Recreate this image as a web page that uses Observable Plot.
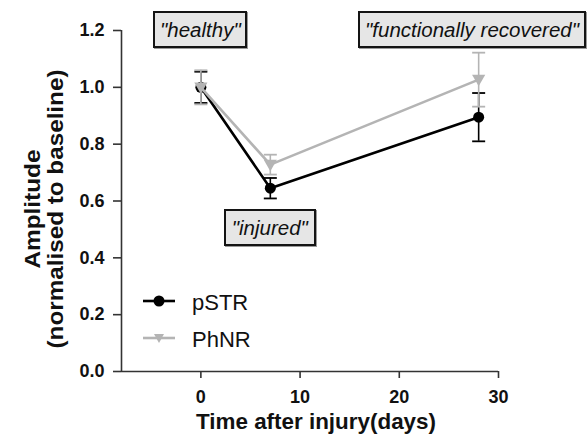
<!DOCTYPE html>
<html>
<head>
<meta charset="utf-8">
<script src="https://cdn.jsdelivr.net/npm/d3@7"></script>
<script src="https://cdn.jsdelivr.net/npm/@observablehq/plot@0.6"></script>
<style>
  html, body { margin: 0; padding: 0; background: #fff; }
  #wrap { position: relative; width: 587px; height: 440px; font-family: "Liberation Sans", Arial, sans-serif; }
  .box { position: absolute; box-sizing: border-box; background: #e6e6e6; border: 2px solid #141414;
         box-shadow: 1px 1px 0 #9a9a9a; display: flex; align-items: center; justify-content: center;
         font-style: italic; font-size: 20.5px; color: #111; white-space: nowrap; }
</style>
</head>
<body>
<div id="wrap"></div>
<script>
// ---- data ----
const days = [0, 7, 28];
const pSTR = [1.0, 0.645, 0.895];
const pSTRerr = [0.055, 0.036, 0.085];
const PhNR = [1.0, 0.728, 1.027];
const PhNRerr = [0.06, 0.035, 0.095];
const xTicks = [0, 10, 20, 30];
const yTicks = [0, 0.2, 0.4, 0.6, 0.8, 1.0, 1.2];
const annotations = [
  {day: 0, text: "\"healthy\""},
  {day: 7, text: "\"injured\""},
  {day: 28, text: "\"functionally recovered\""}
];
const seriesNames = ["pSTR", "PhNR"];
const colors = {pSTR: "#000000", PhNR: "#b4b4b4"};
const yLabel1 = "Amplitude";
const yLabel2 = "(normalised to baseline)";
const xLabel = "Time after injury(days)";

const rows = [];
days.forEach((d, i) => {
  rows.push({series: "pSTR", day: d, v: pSTR[i], lo: pSTR[i] - pSTRerr[i], hi: pSTR[i] + pSTRerr[i]});
});
days.forEach((d, i) => {
  rows.push({series: "PhNR", day: d, v: PhNR[i], lo: PhNR[i] - PhNRerr[i], hi: PhNR[i] + PhNRerr[i]});
});

const cap = { draw(ctx, size) { const w = 6.5; ctx.moveTo(-w, 0); ctx.lineTo(w, 0); } };
const triDown = { draw(ctx, size) { const r = Math.sqrt(size) * 0.62;
  ctx.moveTo(-r, -r * 0.75); ctx.lineTo(r, -r * 0.75); ctx.lineTo(0, r * 1.0); ctx.closePath(); } };

function seriesMarks(name, sym) {
  const data = rows.filter(r => r.series === name);
  const c = colors[name];
  return [
    Plot.ruleX(data, {x: "day", y1: "lo", y2: "hi", stroke: c, strokeWidth: 1.6}),
    Plot.dot(data, {x: "day", y: "lo", symbol: cap, stroke: c, strokeWidth: 1.8, r: 5}),
    Plot.dot(data, {x: "day", y: "hi", symbol: cap, stroke: c, strokeWidth: 1.8, r: 5}),
    Plot.line(data, {x: "day", y: "v", stroke: c, strokeWidth: 2.6}),
    sym === "circle"
      ? Plot.dot(data, {x: "day", y: "v", fill: c, r: 5.5, symbol: "circle"})
      : Plot.dot(data, {x: "day", y: "v", fill: c, r: 6, symbol: triDown})
  ];
}

const chart = Plot.plot({
  width: 587,
  height: 440,
  marginLeft: 121,
  marginRight: 89,
  marginTop: 30,
  marginBottom: 69,
  style: {fontFamily: "'Liberation Sans', Arial, sans-serif", background: "#fff", fontSize: "18px", fontWeight: "bold"},
  x: {domain: [-8, 30]},
  y: {domain: [0, 1.2]},
  marks: [
    Plot.ruleY([0], {stroke: "#333", strokeWidth: 1.6}),
    Plot.ruleX([-8], {stroke: "#333", strokeWidth: 1.6}),
    Plot.axisX({ticks: xTicks, tickSize: 7, tickPadding: 12, fontSize: 18, fontWeight: "bold",
      stroke: "#333", strokeWidth: 1.6, label: null, fill: "#111"}),
    Plot.axisY({ticks: yTicks, tickSize: 8, tickPadding: 9, fontSize: 18, fontWeight: "bold",
      stroke: "#333", strokeWidth: 1.6, label: null, tickFormat: d3.format(".1f"), fill: "#111"}),
    ...seriesMarks("pSTR", "circle"),
    ...seriesMarks("PhNR", "tri"),
    Plot.text([yLabel1], {frameAnchor: "left", dx: -89, dy: 8, rotate: -90, textAnchor: "middle",
      fontSize: 22, fontWeight: "bold", fill: "#111", lineAnchor: "middle"}),
    Plot.text([yLabel2], {frameAnchor: "left", dx: -66, dy: 8, rotate: -90, textAnchor: "middle",
      fontSize: 22, fontWeight: "bold", fill: "#111", lineAnchor: "middle"}),
    Plot.text([xLabel], {frameAnchor: "bottom", dx: 6, dy: 50, fontSize: 22,
      fontWeight: "bold", fill: "#111", lineAnchor: "middle"})
  ]
});

const wrap = document.getElementById("wrap");
wrap.appendChild(chart);
const xs = chart.scale("x");

// tick labels: force size/weight
const tickTexts = new Set([...xTicks.map(String), ...yTicks.map(d3.format(".1f"))]);
d3.select(chart).selectAll("text").each(function() {
  if (tickTexts.has(this.textContent)) {
    this.style.fontSize = "18px";
    this.style.fontWeight = "bold";
  }
});

// stretch labels to the reference's length
d3.select(chart).selectAll("text").each(function() {
  const t = this.textContent;
  if (t === yLabel1) { this.setAttribute("textLength", 119); this.setAttribute("lengthAdjust", "spacingAndGlyphs"); }
  if (t === yLabel2) { this.setAttribute("textLength", 279); this.setAttribute("lengthAdjust", "spacingAndGlyphs"); }
  if (t === xLabel) { this.setAttribute("textLength", 240); this.setAttribute("lengthAdjust", "spacingAndGlyphs"); }
});

// annotation boxes
const boxSpec = [
  {w: 94, h: 37, top: 11},
  {w: 92, h: 37, top: 209},
  {w: 228, h: 37, top: 11}
];
annotations.forEach((a, i) => {
  const b = boxSpec[i];
  const div = document.createElement("div");
  div.className = "box";
  div.textContent = a.text;
  let left = xs.apply(a.day) - b.w / 2;
  left = Math.min(left, 587 - b.w - 1);
  div.style.left = left + "px";
  div.style.top = b.top + "px";
  div.style.width = b.w + "px";
  div.style.height = b.h + "px";
  wrap.appendChild(div);
});

// legend
const ns = "http://www.w3.org/2000/svg";
const leg = document.createElementNS(ns, "svg");
leg.setAttribute("width", 587);
leg.setAttribute("height", 440);
leg.style.position = "absolute";
leg.style.left = "0px";
leg.style.top = "0px";
leg.style.pointerEvents = "none";
seriesNames.forEach((name, i) => {
  const cy = 301 + i * 37;
  const c = colors[name];
  const ln = document.createElementNS(ns, "line");
  ln.setAttribute("x1", 143); ln.setAttribute("x2", 175);
  ln.setAttribute("y1", cy); ln.setAttribute("y2", cy);
  ln.setAttribute("stroke", c); ln.setAttribute("stroke-width", 2.6);
  leg.appendChild(ln);
  if (i === 0) {
    const ci = document.createElementNS(ns, "circle");
    ci.setAttribute("cx", 159); ci.setAttribute("cy", cy); ci.setAttribute("r", 5.5);
    ci.setAttribute("fill", c);
    leg.appendChild(ci);
  } else {
    const p = document.createElementNS(ns, "path");
    p.setAttribute("d", `M${159 - 5},${cy - 4}L${159 + 5},${cy - 4}L159,${cy + 5}Z`);
    p.setAttribute("fill", c);
    leg.appendChild(p);
  }
  const t = document.createElementNS(ns, "text");
  t.setAttribute("x", 192); t.setAttribute("y", cy + 9);
  t.setAttribute("font-size", 22);
  t.setAttribute("font-family", "'Liberation Sans', Arial, sans-serif");
  t.setAttribute("fill", "#111");
  t.textContent = name;
  leg.appendChild(t);
});
wrap.appendChild(leg);
</script>
</body>
</html>
